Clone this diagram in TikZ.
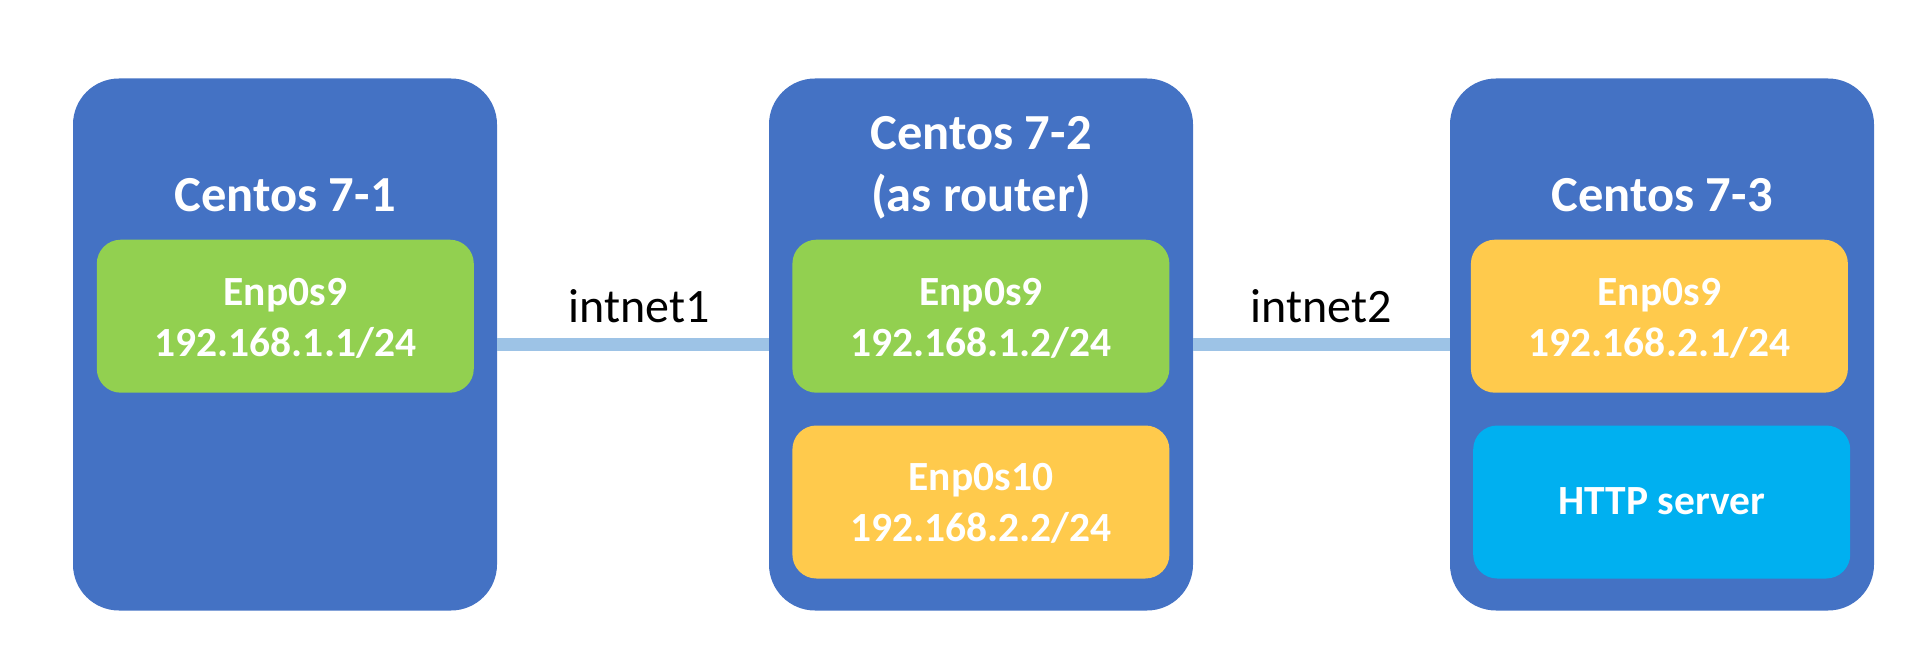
\documentclass[tikz,border=0pt]{standalone}
\usepackage{fontspec}
\setmainfont{Carlito}
\definecolor{boxblue}{HTML}{4472C4}
\definecolor{ifgreen}{HTML}{92D050}
\definecolor{ifyellow}{HTML}{FFCA4C}
\definecolor{ifcyan}{HTML}{00B0F0}
\definecolor{linkblue}{HTML}{9DC3E6}
\begin{document}
\begin{tikzpicture}[x=1pt,y=-1pt,
  machine/.style={fill=boxblue, rounded corners=46pt, minimum width=424pt, minimum height=532pt, inner sep=0pt},
  iface/.style={rounded corners=24pt, minimum width=377pt, minimum height=153pt, inner sep=0pt},
  title/.style={text=white, font=\bfseries\fontsize{50.5}{62}\selectfont, anchor=base, inner sep=0pt},
  itext/.style={text=white, font=\bfseries\fontsize{41.5}{51}\selectfont, anchor=base, inner sep=0pt},
  link/.style={draw=linkblue, line width=13pt},
  netlabel/.style={text=black, font=\fontsize{48}{58}\selectfont, anchor=base, inner sep=0pt}]
\useasboundingbox (0,0) rectangle (1931,671);

% machines
\node[machine] (m1) at (285,344.5) {};
\node[machine] (m2) at (981,344.5) {};
\node[machine] (m3) at (1662,344.5) {};

% links
\draw[link] (m1) -- (m2) node[netlabel, pos=0.5, xshift=6pt, yshift=21.9pt] (l1) {intnet1};
\draw[link] (m2) -- (m3) node[netlabel, pos=0.5, yshift=21.9pt] (l2) {intnet2};

% titles
\node[title] (t1) at (285,211.7) {Centos 7-1};
\node[title] (t2a) at (981,149.7) {Centos 7-2};
\node[title] (t2b) at (981,211.7) {(as router)};
\node[title] (t3) at (1662,211.7) {Centos 7-3};

% interfaces
\node[iface, fill=ifgreen] (g1) at (285.3,316.2) {};
\node[itext] (g1a) at (285.3,305.5) {Enp0s9};
\node[itext] (g1b) at (285.3,356) {192.168.1.1/24};

\node[iface, fill=ifgreen] (g2) at (980.9,316.2) {};
\node[itext] (g2a) at (980.9,305.5) {Enp0s9};
\node[itext] (g2b) at (980.9,356) {192.168.1.2/24};

\node[iface, fill=ifyellow] (y2) at (980.9,502) {};
\node[itext] (y2a) at (980.9,490.5) {Enp0s10};
\node[itext] (y2b) at (980.9,541) {192.168.2.2/24};

\node[iface, fill=ifyellow] (y3) at (1659.4,316.2) {};
\node[itext] (y3a) at (1659.4,305.5) {Enp0s9};
\node[itext] (y3b) at (1659.4,356) {192.168.2.1/24};

\node[iface, fill=ifcyan] (c3) at (1661.7,502) {};
\node[itext] (c3a) at (1661.7,514.5) {HTTP server};
\end{tikzpicture}
\end{document}
